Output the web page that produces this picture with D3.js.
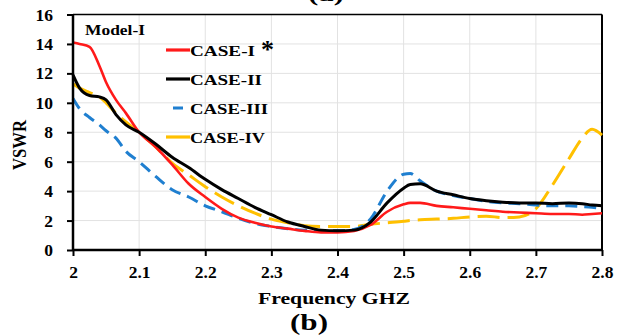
<!DOCTYPE html>
<html>
<head>
<meta charset="utf-8">
<script src="https://cdn.jsdelivr.net/npm/d3@7"></script>
<style>
  body { margin: 0; background: #fff; }
  text { font-family: "Liberation Serif", "Times New Roman", serif; font-weight: bold; }
</style>
</head>
<body>
<div class="chart"></div>
<script>
// frequency grid (GHz) shared by all curves
var freq = [2.0, 2.01, 2.025, 2.04, 2.05, 2.065, 2.08, 2.1, 2.125, 2.15, 2.175, 2.2, 2.225, 2.25, 2.275, 2.3,
    2.325, 2.35, 2.375, 2.4, 2.425, 2.45, 2.475, 2.5, 2.51, 2.525, 2.55, 2.575, 2.6, 2.625, 2.65, 2.675,
    2.7, 2.725, 2.75, 2.77, 2.785, 2.8]

var case1 = [14.1, 14.0, 13.8, 12.5, 11.4, 10.2, 9.3, 8.0, 7.0, 5.8, 4.5, 3.6, 2.8, 2.2, 1.85, 1.6,
    1.45, 1.3, 1.2, 1.2, 1.3, 1.7, 2.6, 3.1, 3.2, 3.2, 3.0, 2.9, 2.8, 2.7, 2.6, 2.55,
    2.5, 2.45, 2.45, 2.4, 2.45, 2.5]
var case2 = [11.9, 11.0, 10.5, 10.4, 10.2, 9.2, 8.5, 8.0, 7.2, 6.3, 5.6, 4.8, 4.1, 3.5, 2.9, 2.4,
    1.9, 1.6, 1.35, 1.3, 1.35, 1.9, 3.2, 4.2, 4.45, 4.5, 4.0, 3.75, 3.5, 3.35, 3.25, 3.2,
    3.2, 3.15, 3.2, 3.15, 3.05, 3.0]
var case3 = [10.3, 9.6, 9.0, 8.5, 8.1, 7.6, 6.7, 6.0, 5.0, 4.1, 3.6, 3.0, 2.6, 2.15, 1.8, 1.6,
    1.45, 1.35, 1.3, 1.3, 1.4, 2.1, 4.0, 5.15, 5.2, 4.7, 4.0, 3.7, 3.5, 3.3, 3.2, 3.15,
    3.05, 3.0, 3.0, 2.95, 2.9, 2.8]
var case4 = [11.3, 11.0, 10.7, 10.4, 10.0, 9.3, 8.7, 8.0, 7.0, 5.9, 5.1, 4.3, 3.6, 3.0, 2.5, 2.1,
    1.85, 1.65, 1.6, 1.6, 1.6, 1.75, 1.85, 1.95, 2.0, 2.05, 2.1, 2.15, 2.25, 2.3, 2.2, 2.25,
    2.8, 4.4, 6.2, 7.6, 8.2, 7.8]

var xTicks = [2, 2.1, 2.2, 2.3, 2.4, 2.5, 2.6, 2.7, 2.8]
var yTicks = [0, 2, 4, 6, 8, 10, 12, 14, 16]
var seriesNames = ["CASE-I", "CASE-II", "CASE-III", "CASE-IV"]

var W = 639, H = 336
var plot = {left: 73, right: 602, top: 14.5, bottom: 250}

var xScale = d3.scaleLinear().domain([2, 2.8]).range([plot.left, plot.right])
var yScale = d3.scaleLinear().domain([0, 16]).range([plot.bottom, plot.top])

var svg = d3.select(".chart").append("svg")
    .attr("width", W)
    .attr("height", H)

// grid
svg.append("g").selectAll("line.gx")
    .data(xTicks.slice(1))
    .enter().append("line")
    .attr("x1", d => xScale(d)).attr("x2", d => xScale(d))
    .attr("y1", plot.top).attr("y2", plot.bottom)
    .style("stroke", "#e2e2e2").style("stroke-width", 1)
svg.append("g").selectAll("line.gy")
    .data(yTicks.slice(1))
    .enter().append("line")
    .attr("x1", plot.left).attr("x2", plot.right)
    .attr("y1", d => yScale(d)).attr("y2", d => yScale(d))
    .style("stroke", "#e2e2e2").style("stroke-width", 1)

// frame top / right
svg.append("line").attr("x1", plot.left).attr("x2", plot.right).attr("y1", plot.top).attr("y2", plot.top)
    .style("stroke", "#000").style("stroke-width", 1.5)
svg.append("line").attr("x1", plot.right).attr("x2", plot.right).attr("y1", plot.top).attr("y2", plot.bottom)
    .style("stroke", "#000").style("stroke-width", 2)

// curves
var series = [
    {name: seriesNames[0], values: case1, color: "#ff1a1a", width: 2.6, dash: null},
    {name: seriesNames[1], values: case2, color: "#000000", width: 3, dash: null},
    {name: seriesNames[2], values: case3, color: "#1f7fd0", width: 3, dash: "12,7"},
    {name: seriesNames[3], values: case4, color: "#ffc000", width: 3, dash: "22,8"}
]

var line = d3.line()
    .x(d => xScale(d[0]))
    .y(d => yScale(d[1]))
    .curve(d3.curveMonotoneX)

// draw order: yellow under, then blue, red, black
var order = [3, 2, 0, 1]
order.forEach(function(i) {
    var s = series[i]
    svg.append("path")
        .datum(freq.map((f, k) => [f, s.values[k]]))
        .attr("d", line)
        .style("fill", "none")
        .style("stroke", s.color)
        .style("stroke-width", s.width)
        .style("stroke-dasharray", s.dash)
        .style("stroke-linejoin", "round")
})

// axes
var xAxis = d3.axisBottom(xScale).tickValues(xTicks).tickFormat(d3.format("")).tickSize(6).tickPadding(10)
var yAxis = d3.axisLeft(yScale).tickValues(yTicks).tickSize(6).tickPadding(14)

var gx = svg.append("g")
    .attr("transform", "translate(0," + plot.bottom + ")")
    .call(xAxis)
var gy = svg.append("g")
    .attr("transform", "translate(" + plot.left + ",0)")
    .call(yAxis)

;[gx, gy].forEach(function(g) {
    g.select(".domain").style("stroke", "#000").style("stroke-width", 2.5)
    g.selectAll(".tick line").style("stroke", "#000").style("stroke-width", 2)
    g.selectAll(".tick text")
        .style("font-family", "'Liberation Serif', serif")
        .style("font-weight", "bold")
        .style("font-size", "17.5px")
        .style("fill", "#000")
})
gx.select(".domain").attr("d", "M" + plot.left + ",0H" + plot.right)
gy.select(".domain").attr("d", "M0," + plot.top + "V" + plot.bottom)

// axis titles
svg.append("text")
    .attr("transform", "translate(26,145) rotate(-90)")
    .attr("x", -25)
    .attr("textLength", 50)
    .attr("lengthAdjust", "spacingAndGlyphs")
    .style("font-size", "18px")
    .text("VSWR")

svg.append("text")
    .attr("x", 258).attr("y", 304)
    .attr("textLength", 152)
    .attr("lengthAdjust", "spacingAndGlyphs")
    .style("font-size", "17px")
    .text("Frequency GHZ")

svg.append("text")
    .attr("x", 290).attr("y", 330)
    .attr("textLength", 38)
    .attr("lengthAdjust", "spacingAndGlyphs")
    .style("font-size", "23px")
    .text("(b)")

// caption of the panel above, cropped at the top edge as in the source
svg.append("text")
    .attr("x", 308).attr("y", 1)
    .attr("textLength", 36)
    .attr("lengthAdjust", "spacingAndGlyphs")
    .style("font-size", "22px")
    .text("(a)")

svg.append("text")
    .attr("x", 85).attr("y", 35)
    .attr("textLength", 60)
    .attr("lengthAdjust", "spacingAndGlyphs")
    .style("font-size", "14.5px")
    .text("Model-I")

// legend
var legY = [50, 79, 108, 137]
var legW = [65, 72, 78, 75]
var legend = svg.append("g").selectAll("g")
    .data(series)
    .enter().append("g")
    .attr("transform", (d, i) => "translate(166," + legY[i] + ")")

legend.append("line")
    .attr("x1", 0).attr("x2", 24).attr("y1", 0).attr("y2", 0)
    .style("stroke", d => d.color)
    .style("stroke-width", 3.2)
    .style("stroke-dasharray", (d, i) => i == 2 ? "0,7,10,100" : null)

legend.append("text")
    .attr("x", 24).attr("y", 5.5)
    .attr("textLength", (d, i) => legW[i])
    .attr("lengthAdjust", "spacingAndGlyphs")
    .style("font-size", "15.5px")
    .text(d => d.name)

svg.append("text")
    .attr("x", 261).attr("y", 58)
    .style("font-size", "26px")
    .text("*")
</script>
</body>
</html>
